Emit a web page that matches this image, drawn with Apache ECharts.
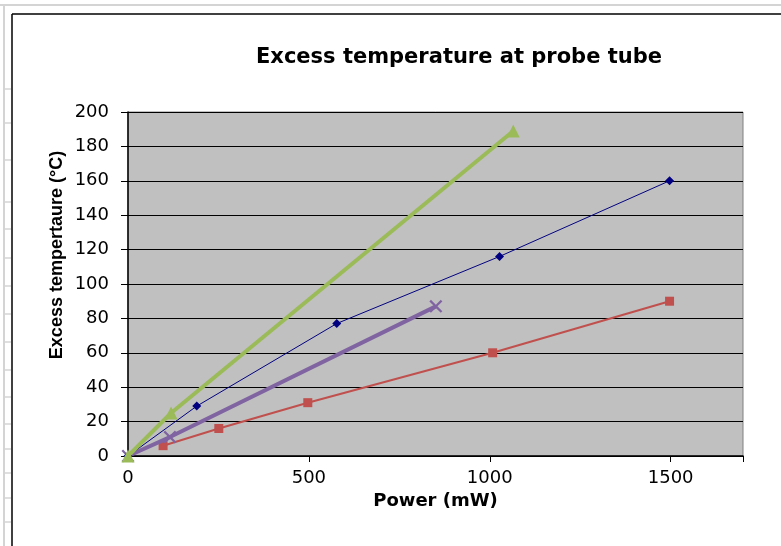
<!DOCTYPE html>
<html>
<head>
<meta charset="utf-8">
<script src="https://cdn.jsdelivr.net/npm/echarts@6/dist/echarts.min.js"></script>
<style>html,body{margin:0;padding:0;background:#fff;}#c{width:781px;height:546px;}</style>
</head>
<body>
<div id="c"></div>
<script>
const titleText = 'Excess temperature at probe tube';
const xName = 'Power (mW)';
const yName = 'Excess tempertaure (°C)';
const blueData = [[0,0],[190,29],[577,77],[1027,116],[1497,160]];
const redData = [[97,6],[251,16],[497,31],[1008,60],[1497,90]];
const greenData = [[0,0],[119,25],[1065,189]];
const purpleData = [[0,0],[116,11],[851,87]];
const rowLines = [89,123,160,202,229,258,286,314,342,370,397,424,449,473,498,522];

const chart = echarts.init(document.getElementById('c'), null, {renderer:'canvas'});
const wideFont = 'DejaVu Sans, sans-serif';
const arial = 'Liberation Sans, Arial, sans-serif';
const xMark = 'path://M0,1.2L1.2,0L5,3.8L8.8,0L10,1.2L6.2,5L10,8.8L8.8,10L5,6.2L1.2,10L0,8.8L3.8,5Z';

const graphics = [
  {type:'line', shape:{x1:0,y1:5,x2:781,y2:5}, style:{stroke:'#d4d4d4', lineWidth:2}, silent:true},
  {type:'line', shape:{x1:4,y1:5,x2:4,y2:546}, style:{stroke:'#d4d4d4', lineWidth:2}, silent:true},
  {type:'line', shape:{x1:12,y1:14,x2:781,y2:14}, style:{stroke:'#000', lineWidth:1.5}, silent:true},
  {type:'line', shape:{x1:12,y1:14,x2:12,y2:546}, style:{stroke:'#000', lineWidth:1.5}, silent:true},
  {type:'text', x:57, y:255, rotation:Math.PI/2, silent:true,
    style:{text:yName, font:'bold 18px ' + arial, fill:'#000', textAlign:'center', textVerticalAlign:'middle'}}
];
rowLines.forEach(y => graphics.push({type:'line', shape:{x1:4,y1:y,x2:11,y2:y}, style:{stroke:'#d4d4d4', lineWidth:1.5}, silent:true}));

chart.setOption({
  animation:false,
  backgroundColor:'#fff',
  title:{text:titleText, left:454, top:42, textAlign:'center',
    textStyle:{fontFamily:wideFont, fontSize:21, fontWeight:'bold', color:'#000'}},
  grid:{left:128, right:38, top:112, bottom:90, show:true, backgroundColor:'#c0c0c0', borderColor:'#808080', borderWidth:1},
  xAxis:{type:'value', min:0, max:1700, interval:500,
    name:xName, nameLocation:'middle', nameGap:35,
    nameTextStyle:{fontFamily:wideFont, fontSize:18, fontWeight:'bold', color:'#000'},
    axisLine:{show:true, lineStyle:{color:'#000', width:1.5}},
    axisTick:{show:true, length:6, lineStyle:{color:'#000'}},
    axisLabel:{fontFamily:wideFont, fontSize:18, color:'#000', margin:13,
      formatter: v => (v % 500 === 0 ? String(v) : '')},
    splitLine:{show:false}},
  yAxis:{type:'value', min:0, max:200, interval:20,
    axisLine:{show:true, lineStyle:{color:'#000', width:1.5}},
    axisTick:{show:true, length:7, lineStyle:{color:'#000'}},
    axisLabel:{fontFamily:wideFont, fontSize:18, color:'#000', margin:19},
    splitLine:{show:true, lineStyle:{color:'#000', width:1.2}}},
  graphic: graphics,
  series:[
    {type:'line', data:redData, symbol:'rect', symbolSize:9, lineStyle:{color:'#C0504D', width:2}, itemStyle:{color:'#C0504D'}, z:3},
    {type:'line', data:purpleData, symbol:xMark, symbolSize:13, lineStyle:{color:'#8064A2', width:4}, itemStyle:{color:'#8064A2'}, z:4},
    {type:'line', data:blueData, symbol:'diamond', symbolSize:9, lineStyle:{color:'#000080', width:1}, itemStyle:{color:'#000080'}, z:5},
    {type:'line', data:greenData, symbol:'triangle', symbolSize:13, lineStyle:{color:'#9BBB59', width:4}, itemStyle:{color:'#9BBB59'}, z:6}
  ]
});
</script>
</body>
</html>
